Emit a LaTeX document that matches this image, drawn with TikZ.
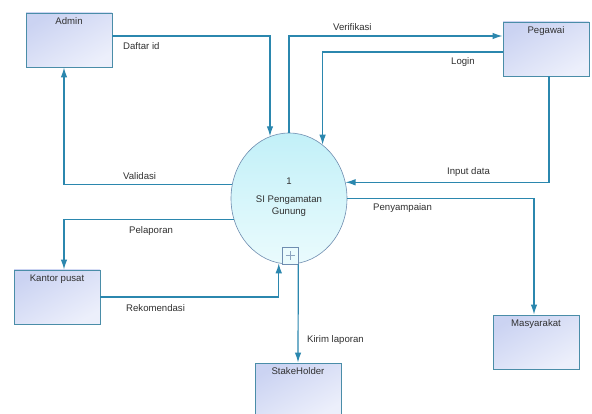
\documentclass[tikz,border=0pt]{standalone}
\usepackage{fontspec}
\setmainfont{Liberation Sans}
\usetikzlibrary{shapes.geometric,arrows.meta}
\definecolor{lineblue}{HTML}{2B87AE}
\definecolor{boxedge}{HTML}{4A8DA8}
\definecolor{boxtop}{HTML}{CBD3F2}
\definecolor{boxbot}{HTML}{ECEFFB}
\definecolor{elltop}{HTML}{C2F0F8}
\definecolor{ellbot}{HTML}{EAFBFD}
\definecolor{elledge}{HTML}{6F8DB0}
\definecolor{txt}{HTML}{303030}
\tikzset{
  ebox/.style={rectangle, draw=boxedge, line width=0.9pt, top color=boxtop, bottom color=boxbot, shading angle=30, minimum width=86pt, minimum height=54pt, inner sep=0pt},
  blabel/.style={anchor=base, yshift=-12pt, text=txt, inner sep=0pt},
  proc/.style={ellipse, draw=elledge, line width=0.6pt, top color=elltop, bottom color=ellbot, minimum width=116pt, minimum height=131pt, inner sep=0pt, text=txt, align=center},
  flow/.style={draw=lineblue, line width=1.2pt, -{Latex[length=10pt,width=6.5pt]}},
  flabel/.style={anchor=base west, text=txt, inner sep=0pt},
  ptext/.style={text=txt, inner sep=0pt, anchor=base},
}
\begin{document}
\begin{tikzpicture}[x=1pt,y=-1pt, font=\fontsize{9.6}{11.5}\selectfont]
\useasboundingbox (0,0) rectangle (592,414);
\clip (0,0) rectangle (592,414);
\fill[white] (0,0) rectangle (592,414);
% nodes
\node[ebox, label={[blabel]north:Admin}] (admin) at (69,40) {};
\node[ebox, label={[blabel]north:Pegawai}] (peg) at (546,49) {};
\node[ebox, label={[blabel]north:Kantor pusat}] (kantor) at (57,297) {};
\node[ebox, label={[blabel]north:Masyarakat}] (mas) at (536,342) {};
\node[ebox, label={[blabel]north:StakeHolder}] (stake) at (298,390) {};
\node[proc] (proc) at (289,198.5) {};
\node[ptext] (pnum) at (289,185) {1};
\node[ptext] (pname1) at (289,203) {SI Pengamatan};
\node[ptext] (pname2) at (289,215) {Gunung};
% connectors
\draw[flow] (admin.east |- 0,36) -| (proc.107);
\draw[flow] (proc.north) |- (peg.west |- 0,36);
\draw[flow] (peg.west |- 0,52) -| (proc.58);
\draw[flow] (peg.south -| 549,0) |- (proc.16);
\draw[flow] (proc.east) -| (mas.north -| 534,0);
\draw[flow] (proc.166) -| (admin.south -| 64,0);
\draw[flow] (proc.201) -| (kantor.north -| 64,0);
\draw[flow] (kantor.east |- 0,297) -| (proc.261);
\node[rectangle, draw=elledge, line width=0.6pt, fill=ellbot, minimum width=16pt, minimum height=17pt, inner sep=0pt] (plus) at (290,255.5) {};
\draw[elledge!80, line width=0.6pt] ([xshift=-4.5pt]plus.center) -- ([xshift=4.5pt]plus.center)
      ([yshift=-4.5pt]plus.center) -- ([yshift=4.5pt]plus.center);
\draw[flow] (plus.south east) -- (stake.north);
% labels
\node[flabel] (l1) at (123,50) {Daftar id};
\node[flabel] (l2) at (123,180) {Validasi};
\node[flabel] (l3) at (333,31) {Verifikasi};
\node[flabel] (l4) at (451,65) {Login};
\node[flabel] (l5) at (447,175) {Input data};
\node[flabel] (l6) at (373,211) {Penyampaian};
\node[flabel] (l7) at (129,234) {Pelaporan};
\node[flabel] (l8) at (126,312) {Rekomendasi};
\node[flabel] (l9) at (307,342) {Kirim laporan};
\end{tikzpicture}
\end{document}
